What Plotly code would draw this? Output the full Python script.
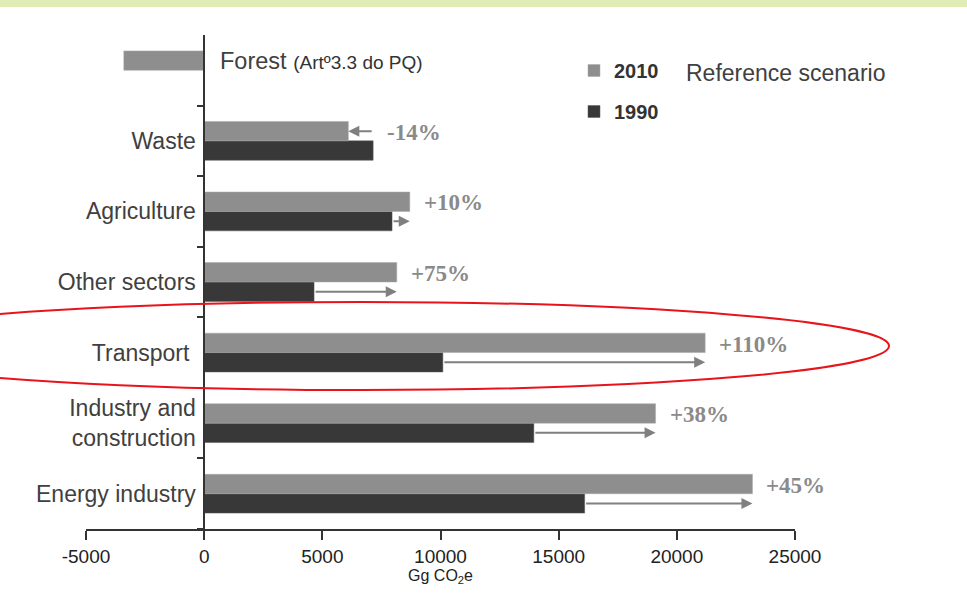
import plotly.graph_objects as go

# ---- data (top-to-bottom order as shown) ----
categories = ["Forest", "Waste", "Agriculture", "Other sectors", "Transport",
              "Industry and construction", "Energy industry"]
tick_labels = ["", "Waste", "Agriculture", "Other sectors", "Transport ",
               "Industry and<br>construction", "Energy industry"]
values_2010 = [-3400, 6100, 8700, 8150, 21200, 19100, 23200]
values_1990 = [None, 7150, 7950, 4650, 10100, 13950, 16100]
change_labels = ["", "-14%", "+10%", "+75%", "+110%", "+38%", "+45%"]
x_ticks = [-5000, 0, 5000, 10000, 15000, 20000, 25000]
x_tick_text = ["-5000", "0", "5000", "10000", "15000", "20000", "25000"]

# ---- layout constants ----
W, H = 967, 603
ML, MR, MT, MB = 86, 172, 35, 74
PW, PH = W - ML - MR, H - MT - MB
XMIN, XMAX = -5000, 25000

def px_x(p):
    return (p - ML) / PW

def px_y(p):
    return (H - MB - p) / PH

order = categories[::-1]          # bottom-to-top for the category axis
idx = {c: order.index(c) for c in categories}
BARGAP = 0.45
half = (1 - BARGAP) / 4           # centre offset of each bar in a group

fig = go.Figure()
fig.add_trace(go.Bar(
    y=categories, x=values_1990, orientation="h", name="1990",
    marker=dict(color="#383838", line=dict(color="#5a5a5a", width=0.5)),
    legendgroup="a", legendrank=2))
fig.add_trace(go.Bar(
    y=categories, x=values_2010, orientation="h", name="2010",
    marker=dict(color="#8e8e8e", line=dict(color="#a8a8a8", width=0.5)),
    legendgroup="b", legendrank=1))

annotations = []
for c, v10, v90, lab in zip(categories, values_2010, values_1990, change_labels):
    if v90 is None:
        continue
    i = idx[c]
    ay = i - half if v10 >= v90 else i + half
    annotations.append(dict(
        x=v10, y=ay, ax=v90, ay=ay, xref="x", yref="y", axref="x", ayref="y",
        text="", showarrow=True, arrowhead=2, arrowsize=1.1, arrowwidth=2,
        arrowcolor="#808080"))
    annotations.append(dict(
        x=max(v10, v90), y=i + 0.12, xref="x", yref="y", text=lab,
        showarrow=False, xanchor="left", yanchor="middle", xshift=12,
        font=dict(family="Liberation Serif, Times New Roman, serif",
                  size=23, color="#8a8a8a", weight="bold")))

annotations.append(dict(
    x=0, y=idx["Forest"] + half, xref="x", yref="y", xanchor="left",
    yanchor="middle", xshift=14, showarrow=False,
    text="Forest <span style='font-size:19px;color:#333333'>(Artº3.3 do PQ)</span>",
    font=dict(family="Liberation Sans, Arial, sans-serif", size=23.5,
              color="#404040")))

annotations.append(dict(
    x=px_x(684), y=px_y(73), xref="paper", yref="paper", xanchor="left",
    yanchor="middle", showarrow=False, text="Reference scenario",
    font=dict(family="Liberation Sans, Arial, sans-serif", size=23,
              color="#404040")))

shapes = [
    dict(type="rect", xref="paper", yref="paper", x0=px_x(0), x1=px_x(W),
         y0=px_y(7), y1=px_y(0), fillcolor="#dfecb5", line=dict(width=0),
         layer="below"),
    dict(type="circle", xref="paper", yref="paper", x0=px_x(-165), x1=px_x(889),
         y0=px_y(390), y1=px_y(302), line=dict(color="#e8141b", width=2)),
]

fig.update_layout(
    width=W, height=H, autosize=False,
    margin=dict(l=ML, r=MR, t=MT, b=MB, pad=0, autoexpand=False),
    paper_bgcolor="white", plot_bgcolor="white",
    barmode="group", bargap=BARGAP, bargroupgap=0,
    showlegend=True,
    legend=dict(x=px_x(574), y=px_y(51), xanchor="left", yanchor="top",
                traceorder="grouped", tracegroupgap=12,
                font=dict(family="Liberation Sans, Arial, sans-serif", size=20,
                          color="#333333", weight="bold"),
                bgcolor="rgba(0,0,0,0)"),
    annotations=annotations, shapes=shapes,
    xaxis=dict(range=[XMIN, XMAX], tickmode="array", tickvals=x_ticks,
               ticktext=x_tick_text, showgrid=False, automargin=False,
               zeroline=False, showline=True, linecolor="#333333", linewidth=1.5,
               ticks="outside", ticklen=9, tickcolor="#333333", tickwidth=1.5,
               tickfont=dict(family="Liberation Sans Narrow, Arial Narrow, Liberation Sans, Arial",
                             size=19, color="#222222"),
               title=dict(text="Gg CO<sub>2</sub>e", standoff=4,
                          font=dict(family="Liberation Sans, Arial, sans-serif",
                                    size=16, color="#222222"))),
    yaxis=dict(type="category", categoryorder="array", categoryarray=order,
               range=[-0.5, len(order) - 0.5], automargin=False,
               tickmode="array", tickvals=categories, ticktext=tick_labels,
               anchor="free", position=(0 - XMIN) / (XMAX - XMIN),
               showgrid=False, zeroline=False, showline=True,
               linecolor="#333333", linewidth=1.5,
               ticks="outside", tickson="boundaries", ticklen=6,
               tickcolor="#333333", tickwidth=1.5, ticklabelstandoff=3,
               tickfont=dict(family="Liberation Sans, Arial, sans-serif",
                             size=23, color="#404040")),
)

fig.write_html("out.html", config={"displayModeBar": False},
               post_script="document.body.style.margin='0';document.body.style.overflow='hidden';")
